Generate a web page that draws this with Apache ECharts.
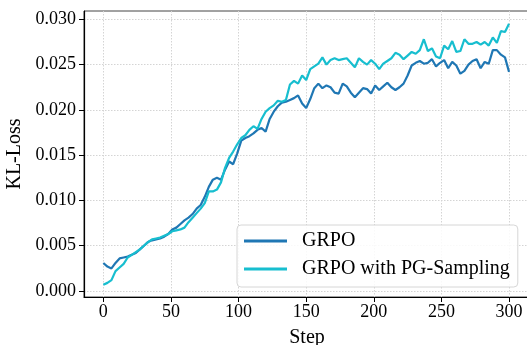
<!DOCTYPE html>
<html lang="en">
<head>
    <meta charset="UTF-8">
    <title>KL-Loss</title>
    <script src="https://cdn.jsdelivr.net/npm/echarts@6/dist/echarts.min.js"></script>
    <style>
        html, body {
            margin: 0;
            height: 100%;
            background: #fff;
        }
    </style>
</head>
<body>
<div id="main" style="width: 527px;height: 345px"></div>
</body>
</html>
<script>
    // steps (every 3rd step)
    var steps = [];
    for (var s = 0; s <= 300; s += 3) steps.push(s);

    var grpoKL = [
        0.0031, 0.0027, 0.0025, 0.0031, 0.0036, 0.0037, 0.0038, 0.0040, 0.0042, 0.0046,
        0.0050, 0.0054, 0.0056, 0.0057, 0.0058, 0.0060, 0.0063, 0.0068, 0.0070, 0.0074,
        0.0078, 0.0081, 0.0085, 0.0091, 0.0095, 0.0104, 0.0115, 0.0123, 0.0125, 0.0123,
        0.0134, 0.0143, 0.0140, 0.0152, 0.0166, 0.0169, 0.0171, 0.0174, 0.0178, 0.0180,
        0.0176, 0.0190, 0.0198, 0.0204, 0.0208, 0.0209, 0.0211, 0.0213, 0.0216, 0.0207,
        0.0202, 0.0212, 0.0224, 0.0229, 0.0224, 0.0227, 0.0225, 0.0219, 0.0218, 0.0229,
        0.0226, 0.0219, 0.0214, 0.0219, 0.0224, 0.0223, 0.0218, 0.0227, 0.0222, 0.0226,
        0.0230, 0.0225, 0.0222, 0.0225, 0.0229, 0.0238, 0.0249, 0.0252, 0.0254, 0.0251,
        0.0252, 0.0256, 0.0248, 0.0252, 0.0255, 0.0246, 0.0253, 0.0249, 0.0240, 0.0243,
        0.0250, 0.0254, 0.0256, 0.0246, 0.0253, 0.0251, 0.0266, 0.0266, 0.0261, 0.0258,
        0.0242
    ];

    var pgKL = [
        0.0007, 0.0009, 0.0012, 0.0022, 0.0026, 0.0030, 0.0037, 0.0040, 0.0043, 0.0046,
        0.0050, 0.0054, 0.0057, 0.0058, 0.0059, 0.0061, 0.0063, 0.0066, 0.0067, 0.0068,
        0.0070, 0.0076, 0.0081, 0.0086, 0.0091, 0.0097, 0.0110, 0.0110, 0.0112, 0.0120,
        0.0136, 0.0147, 0.0154, 0.0162, 0.0169, 0.0172, 0.0178, 0.0182, 0.0179, 0.0190,
        0.0198, 0.0202, 0.0205, 0.0210, 0.0209, 0.0211, 0.0228, 0.0232, 0.0229, 0.0238,
        0.0233, 0.0245, 0.0248, 0.0251, 0.0258, 0.0250, 0.0255, 0.0257, 0.0255, 0.0256,
        0.0257, 0.0252, 0.0247, 0.0257, 0.0253, 0.0250, 0.0255, 0.0251, 0.0245, 0.0251,
        0.0254, 0.0257, 0.0263, 0.0261, 0.0256, 0.0260, 0.0264, 0.0262, 0.0266, 0.0278,
        0.0265, 0.0268, 0.0259, 0.0257, 0.0271, 0.0267, 0.0276, 0.0264, 0.0265, 0.0278,
        0.0273, 0.0273, 0.0275, 0.0272, 0.0275, 0.0271, 0.0280, 0.0274, 0.0287, 0.0286,
        0.0295
    ];

    var xTicks = [0, 50, 100, 150, 200, 250, 300];
    var yTicks = [0, 0.005, 0.010, 0.015, 0.020, 0.025, 0.030];

    function pairs(vals) {
        return steps.map(function (x, i) {
            return [x, vals[i]];
        });
    }

    var font = "'Liberation Serif', 'Times New Roman', serif";
    var myChart = echarts.init(document.getElementById('main'));
    var option = {
        animation: false,
        textStyle: {fontFamily: font},
        grid: {
            left: 84,
            top: 11,
            width: 446,
            height: 286,
            outerBoundsMode: 'none',
            containLabel: false,
            show: true,
            borderColor: '#444',
            borderWidth: 1,
            backgroundColor: 'transparent'
        },
        legend: {
            left: 237,
            top: 225,
            orient: 'vertical',
            icon: 'rect',
            itemWidth: 43,
            itemHeight: 3,
            itemGap: 8,
            padding: [6, 8, 8, 7],
            borderColor: '#d6d6d6',
            borderWidth: 1,
            borderRadius: 4,
            backgroundColor: 'rgba(255,255,255,0.85)',
            textStyle: {
                fontFamily: font,
                fontSize: 20,
                color: '#000',
                padding: [0, 0, 0, 10]
            },
            data: ['GRPO', 'GRPO with PG-Sampling']
        },
        xAxis: {
            type: 'value',
            min: -14.3,
            max: 315.5,
            name: 'Step',
            nameLocation: 'middle',
            nameGap: 31,
            nameTextStyle: {fontFamily: font, fontSize: 20, color: '#000'},
            axisLine: {onZero: false, lineStyle: {color: '#000', width: 1.2}},
            axisTick: {show: true, length: 5, customValues: xTicks, lineStyle: {color: '#000'}},
            axisLabel: {
                customValues: xTicks,
                margin: 6,
                fontFamily: font,
                fontSize: 18,
                color: '#000'
            },
            splitLine: {show: true, lineStyle: {color: '#d4d4d4', type: [1.5, 1.5], width: 1}}
        },
        yAxis: {
            type: 'value',
            min: -0.00066,
            max: 0.03092,
            name: 'KL-Loss',
            nameLocation: 'middle',
            nameGap: 52,
            nameTextStyle: {fontFamily: font, fontSize: 20, color: '#000'},
            axisLine: {show: true, onZero: false, lineStyle: {color: '#000', width: 1.2}},
            axisTick: {show: true, length: 5, customValues: yTicks, lineStyle: {color: '#000'}},
            axisLabel: {
                customValues: yTicks,
                margin: 8,
                fontFamily: font,
                fontSize: 18,
                color: '#000',
                formatter: function (v) {
                    return v.toFixed(3);
                }
            },
            splitLine: {show: true, lineStyle: {color: '#d4d4d4', type: [1.5, 1.5], width: 1}}
        },
        series: [
            {
                name: 'GRPO',
                type: 'line',
                data: pairs(grpoKL),
                showSymbol: false,
                color: '#1f77b4',
                lineStyle: {width: 2.2}
            },
            {
                name: 'GRPO with PG-Sampling',
                type: 'line',
                data: pairs(pgKL),
                showSymbol: false,
                color: '#17becf',
                lineStyle: {width: 2.2}
            }
        ]
    };
    myChart.setOption(option);
</script>
